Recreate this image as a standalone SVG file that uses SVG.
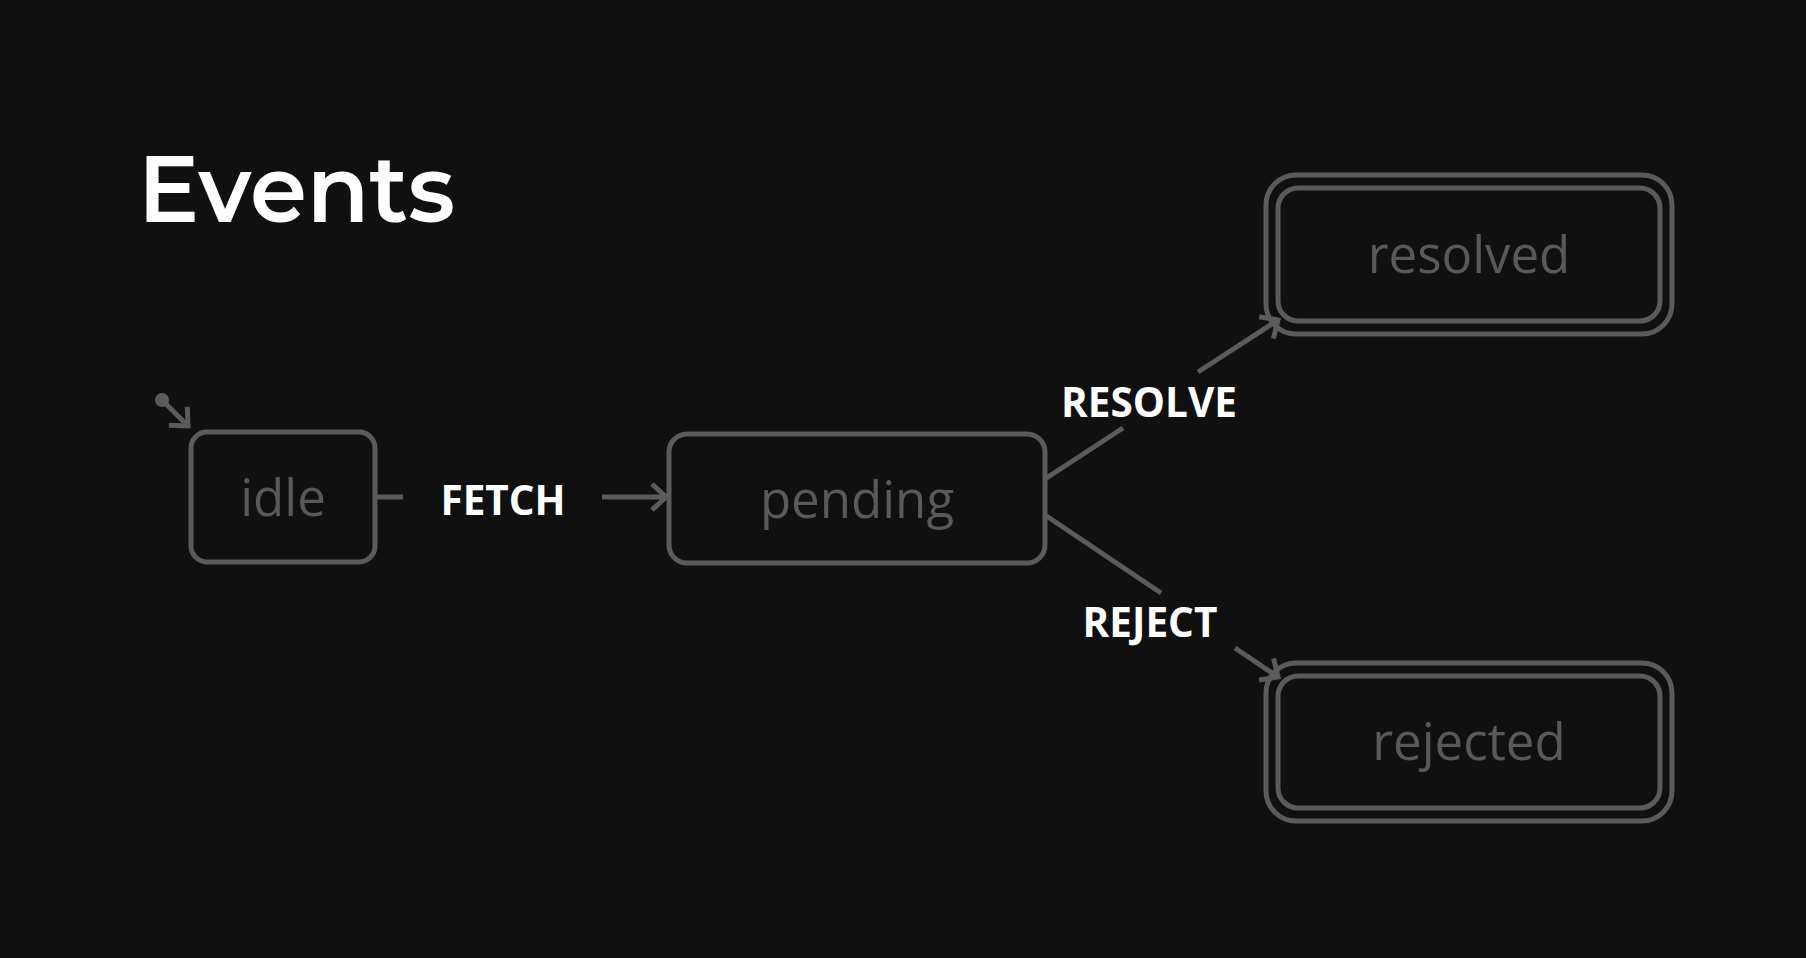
<svg xmlns="http://www.w3.org/2000/svg" width="1806" height="958" viewBox="0 0 1806 958">
<defs>
<style>
.box{fill:none;stroke:#5a5b5a;stroke-width:5}
.st{font-family:"Open Sans","Noto Sans",sans-serif;font-size:51px;fill:#585958;text-anchor:middle}
.ev{font-family:"Open Sans","Noto Sans",sans-serif;font-weight:700;font-size:40.5px;fill:#ffffff;text-anchor:middle}
.ln{fill:none;stroke:#5a5b5a;stroke-width:5;stroke-linecap:butt}
</style>
<marker id="ah" viewBox="0 0 30 30" refX="17" refY="15" markerWidth="30" markerHeight="30" markerUnits="userSpaceOnUse" orient="auto">
<path d="M3,2 L17,15 L3,28" fill="none" stroke="#5a5b5a" stroke-width="5"/>
</marker>
</defs>
<rect width="1806" height="958" fill="#0f100f"/>
<text x="138" y="222" font-family="Montserrat,Inter,'Open Sans',sans-serif" font-weight="600" font-size="94" fill="#ffffff" textLength="317" lengthAdjust="spacingAndGlyphs">Events</text>
<g id="connectors">
<circle cx="162" cy="400" r="7" fill="#5a5b5a"/>
<line class="ln" x1="162" y1="400" x2="188" y2="426" marker-end="url(#ah)"/>
<line class="ln" x1="375" y1="497" x2="403" y2="497"/>
<line class="ln" x1="602" y1="497" x2="666" y2="497" marker-end="url(#ah)"/>
<line class="ln" x1="1045" y1="479" x2="1123" y2="428"/>
<line class="ln" x1="1198" y1="372" x2="1278" y2="320" marker-end="url(#ah)"/>
<line class="ln" x1="1045" y1="515" x2="1161" y2="593"/>
<line class="ln" x1="1235" y1="648" x2="1278" y2="677" marker-end="url(#ah)"/>
<text class="ev" x="503" y="515">FETCH</text>
<text class="ev" x="1149" y="417">RESOLVE</text>
<text class="ev" x="1150" y="637">REJECT</text>
</g>
<g id="idle">
<rect class="box" x="191" y="432" width="184" height="130" rx="16"/>
<text class="st" x="283" y="516">idle</text>
</g>
<g id="pending">
<rect class="box" x="669" y="434" width="376" height="129" rx="18"/>
<text class="st" x="857" y="518">pending</text>
</g>
<g id="resolved">
<rect class="box" x="1266" y="175" width="406" height="159" rx="30"/>
<rect class="box" x="1278" y="188" width="382" height="133" rx="20"/>
<text class="st" x="1469" y="273">resolved</text>
</g>
<g id="rejected">
<rect class="box" x="1266" y="663" width="406" height="158" rx="30"/>
<rect class="box" x="1278" y="676" width="382" height="132" rx="20"/>
<text class="st" x="1469" y="760">rejected</text>
</g>
</svg>
